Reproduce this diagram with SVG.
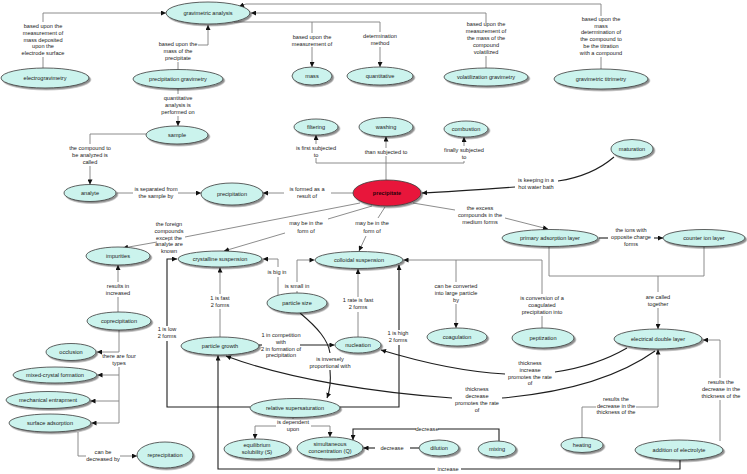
<svg xmlns="http://www.w3.org/2000/svg" width="747" height="474" viewBox="0 0 747 474">
<defs>
<marker id="a" viewBox="0 0 10 10" refX="10" refY="5" markerWidth="5.5" markerHeight="5" markerUnits="userSpaceOnUse" orient="auto"><path d="M0,0 L10,5 L0,10 z" fill="#111"/></marker>
<filter id="sh" x="-20%" y="-30%" width="150%" height="170%"><feDropShadow dx="1.6" dy="1.6" stdDeviation="0.6" flood-color="#000" flood-opacity="0.45"/></filter>
<style>
.n ellipse{fill:#cbf3ed;stroke:#3a3a3a;stroke-width:0.8;filter:url(#sh)}
.n text,.l{font-family:"Liberation Sans",Arial,sans-serif;font-size:5.6px;text-anchor:middle;fill:#1a1a1a}
.c path{fill:none;stroke:#808080;stroke-width:0.9}
.c path.d{stroke:#1e1e1e;stroke-width:1.1}
.c path.m{marker-end:url(#a)}
</style>
</defs>
<rect width="747" height="474" fill="#fff"/>
<g id="connectors" class="c">
<path d="M43,68 V57"/><path class="m" d="M43,22 V13 H166"/>
<path d="M178,70 V62"/><path class="m" d="M198,45 H208 V25"/>
<path d="M234,22 H380"/><path d="M312,22 V33"/><path class="m" d="M312,47 V67"/><path d="M380,22 V32"/><path class="m" d="M380,47 V67"/>
<path d="M486,68 V56"/><path class="m" d="M486,23 V13 H251"/>
<path d="M601,69 V57"/><path class="m" d="M601,16 V4 H246 L239,6.5"/>
<path d="M178,88 V94"/><path class="m" d="M178,116 V126"/>
<path d="M146,134 H90 V144"/><path class="m" d="M90,166 V184.5"/>
<path d="M117,193 H133"/><path class="m" d="M178,193 H201"/>
<path d="M353,193 H331"/><path class="m" d="M284,193 H263"/>
<path d="M386,180 V163"/><path d="M316,163 H464"/>
<path d="M316,163 V158"/><path class="m" d="M316,144 V135"/>
<path d="M386,163 V156"/><path class="m" d="M386,148 V136.5"/>
<path d="M464,163 V161"/><path class="m" d="M464,146 V137"/>
<path class="d" d="M614,157 Q592,176 558,181"/><path class="d m" d="M515,187 C475,190 445,192 422,193"/>
<path d="M413,203 L455,210"/><path class="m" d="M505,218 L548,229"/>
<path d="M360,203 L185,237"/><path class="m" d="M157,242 L123,248"/>
<path d="M372,206 L328,219"/><path class="m" d="M285,233 L224,251"/>
<path d="M385,207 L378,218"/><path class="m" d="M366,236 L359,251"/>
<path d="M278,295 V277"/><path class="m" d="M278,267 V259 H263"/>
<path d="M297,293 V291"/><path class="m" d="M297,282 V260 H314.5"/>
<path d="M220,337 V309"/><path class="m" d="M220,294 V267.5"/>
<path d="M358,337 V312"/><path class="m" d="M358,297 V269"/>
<path class="d" d="M250,407 H167 V341"/><path class="d m" d="M167,326 V259 H177"/>
<path class="d" d="M340,407 H399 V345"/><path class="d m" d="M399,330 V265"/>
<path class="d" d="M259,345 H262"/><path class="d m" d="M300,345 H334.5"/>
<path class="d" d="M300,313 C318,328 328,340 330,353"/><path class="d m" d="M330,370 C331,381 330,390 327,398"/>
<path class="d" d="M627,348 Q596,366 555,372"/><path class="d m" d="M505,374 Q450,371 381,350"/>
<path class="d" d="M655,351 C620,376 570,392 502,398"/><path class="d m" d="M452,398 C380,393 290,380 226,356"/>
<path d="M582,438 V407 H596"/><path class="m" d="M636,407 H658 V349.5"/>
<path d="M720,441 V400"/><path class="m" d="M720,378 V340 H703"/>
<path class="d" d="M680,460 V469 H461"/><path class="d m" d="M435,469 H218 V355.5"/>
<path class="d" d="M499,441 V429 H438"/><path class="d m" d="M416,429 H353 V440"/>
<path class="d" d="M419,448 H410"/><path class="d m" d="M375,448 H363.5"/>
<path d="M293,417.5 V419"/><path class="m" d="M276,426 H255 V439"/><path class="m" d="M311,426 H330 V437"/>
<path d="M118,312 V297"/><path class="m" d="M118,282 V265"/>
<path class="m" d="M119,330 V352 H97"/><path class="m" d="M119,367 V423 H91.5"/>
<path class="m" d="M119,375 H97.5"/><path class="m" d="M119,401 H90.5"/>
<path d="M78,432 V456 H86"/><path class="m" d="M120,456 H137"/>
<path d="M542,328 V316"/><path class="m" d="M542,294 V260 H403.5"/>
<path d="M456,260 V282"/><path class="m" d="M456,304 V328"/>
<path class="d" d="M599,238 H608"/><path class="d m" d="M654,238 H663"/>
<path d="M549,246.5 V276 H704 V246.5"/><path d="M658,276 V292"/><path class="m" d="M658,308 V329"/>
</g>
<g id="labels">
<text class="l" x="43" y="28">based upon the<tspan x="43" dy="6.8">measurement of</tspan><tspan x="43" dy="6.8">mass deposited</tspan><tspan x="43" dy="6.8">upon the</tspan><tspan x="43" dy="6.8">electrode surface</tspan></text>
<text class="l" x="178" y="46">based upon the<tspan x="178" dy="6.8">mass of the</tspan><tspan x="178" dy="6.8">precipitate</tspan></text>
<text class="l" x="312" y="39">based upon the<tspan x="312" dy="6.6">measurement of</tspan></text>
<text class="l" x="380" y="38">determination<tspan x="380" dy="6.8">method</tspan></text>
<text class="l" x="486" y="26">based upon the<tspan x="486" dy="6.9">measurement of</tspan><tspan x="486" dy="6.9">the mass of the</tspan><tspan x="486" dy="6.9">compound</tspan><tspan x="486" dy="6.9">volatilized</tspan></text>
<text class="l" x="601" y="21">based upon the<tspan x="601" dy="6.7">mass</tspan><tspan x="601" dy="6.7">determination of</tspan><tspan x="601" dy="6.7">the compound to</tspan><tspan x="601" dy="6.7">be the titration</tspan><tspan x="601" dy="6.7">with a compound</tspan></text>
<text class="l" x="178" y="100">quantitative<tspan x="178" dy="7">analysis is</tspan><tspan x="178" dy="7">performed on</tspan></text>
<text class="l" x="90" y="150">the compound to<tspan x="90" dy="7">be analyzed is</tspan><tspan x="90" dy="7">called</tspan></text>
<text class="l" x="156" y="191">is separated from<tspan x="156" dy="7">the sample by</tspan></text>
<text class="l" x="307" y="191">is formed as a<tspan x="307" dy="7">result of</tspan></text>
<text class="l" x="316" y="150">is first subjected<tspan x="316" dy="6.5">to</tspan></text>
<text class="l" x="386" y="154">than subjected to</text>
<text class="l" x="464" y="152">finally subjected<tspan x="464" dy="6.5">to</tspan></text>
<text class="l" x="536" y="182">is keeping in a<tspan x="536" dy="7">hot water bath</tspan></text>
<text class="l" x="480" y="210">the excess<tspan x="480" dy="7">compounds in the</tspan><tspan x="480" dy="7">medium forms</tspan></text>
<text class="l" x="169" y="226">the foreign<tspan x="169" dy="6.8">compounds</tspan><tspan x="169" dy="6.8">except the</tspan><tspan x="169" dy="6.8">analyte are</tspan><tspan x="169" dy="6.8">known</tspan></text>
<text class="l" x="306" y="225">may be in the<tspan x="306" dy="7.5">form of</tspan></text>
<text class="l" x="372" y="225">may be in the<tspan x="372" dy="7.5">form of</tspan></text>
<text class="l" x="277" y="274">is big in</text>
<text class="l" x="297" y="288">is small in</text>
<text class="l" x="220" y="300">1 is fast<tspan x="220" dy="7">2  forms</tspan></text>
<text class="l" x="358" y="302">1 rate is fast<tspan x="358" dy="7">2 forms</tspan></text>
<text class="l" x="167" y="331">1 is low<tspan x="167" dy="7">2  forms</tspan></text>
<text class="l" x="398" y="335">1 is high<tspan x="398" dy="7">2  forms</tspan></text>
<text class="l" x="281" y="337">1 in competition<tspan x="281" dy="6.8">with</tspan><tspan x="281" dy="6.8">2 in formation of</tspan><tspan x="281" dy="6.8">precipitation</tspan></text>
<text class="l" x="330" y="361">is inversely<tspan x="330" dy="7">proportional with</tspan></text>
<text class="l" x="530" y="365">thickness<tspan x="530" dy="6.8">increase</tspan><tspan x="530" dy="6.8">promotes the rate</tspan><tspan x="530" dy="6.8">of</tspan></text>
<text class="l" x="477" y="391">thickness<tspan x="477" dy="6.9">decrease</tspan><tspan x="477" dy="6.9">promotes the rate</tspan><tspan x="477" dy="6.9">of</tspan></text>
<text class="l" x="616" y="401">results the<tspan x="616" dy="6.7">decrease in the</tspan><tspan x="616" dy="6.7">thickness of the</tspan></text>
<text class="l" x="721" y="384">results the<tspan x="721" dy="7">decrease in the</tspan><tspan x="721" dy="7">thickness of the</tspan></text>
<text class="l" x="448" y="471">increase</text>
<text class="l" x="427" y="431">decrease</text>
<text class="l" x="392" y="450">decrease</text>
<text class="l" x="293" y="424">is dependent<tspan x="293" dy="6.5">upon</tspan></text>
<text class="l" x="118" y="288">results in<tspan x="118" dy="7">increased</tspan></text>
<text class="l" x="119" y="358">there are four<tspan x="119" dy="7">types</tspan></text>
<text class="l" x="103" y="454">can be<tspan x="103" dy="6.5">decreased by</tspan></text>
<text class="l" x="456" y="288">can be converted<tspan x="456" dy="6.8">into large particle</tspan><tspan x="456" dy="6.8">by</tspan></text>
<text class="l" x="542" y="300">is conversion of a<tspan x="542" dy="7">coagulated</tspan><tspan x="542" dy="7">precipitation into</tspan></text>
<text class="l" x="631" y="232">the ions with<tspan x="631" dy="7">opposite charge</tspan><tspan x="631" dy="7">forms</tspan></text>
<text class="l" x="658" y="299">are called<tspan x="658" dy="7">together</tspan></text>
</g>
<g id="gravimetric-analysis" class="n"><ellipse cx="208" cy="13" rx="42" ry="11"/><text x="208" y="15">gravimetric analysis</text></g>
<g id="electrogravimetry" class="n"><ellipse cx="45" cy="78" rx="44" ry="10"/><text x="45" y="80">electrogravimetry</text></g>
<g id="precipitation-gravimetry" class="n"><ellipse cx="178" cy="79" rx="45" ry="9.5"/><text x="178" y="81">precipitation gravimetry</text></g>
<g id="sample" class="n"><ellipse cx="177" cy="135" rx="31" ry="9"/><text x="177" y="137">sample</text></g>
<g id="mass" class="n"><ellipse cx="312" cy="76" rx="20" ry="9"/><text x="312" y="78">mass</text></g>
<g id="quantitative" class="n"><ellipse cx="380" cy="76" rx="33" ry="9"/><text x="380" y="78">quantitative</text></g>
<g id="volatilization-gravimetry" class="n"><ellipse cx="486" cy="77" rx="42" ry="9"/><text x="486" y="79">volatilization gravimetry</text></g>
<g id="gravimetric-titrimetry" class="n"><ellipse cx="601" cy="79" rx="47" ry="10"/><text x="601" y="81">gravimetric titrimetry</text></g>
<g id="filtering" class="n"><ellipse cx="316" cy="127" rx="22" ry="8"/><text x="316" y="129">filtering</text></g>
<g id="washing" class="n"><ellipse cx="386" cy="127" rx="27" ry="9.5"/><text x="386" y="129">washing</text></g>
<g id="combustion" class="n"><ellipse cx="466" cy="129" rx="22" ry="8"/><text x="466" y="131">combustion</text></g>
<g id="maturation" class="n"><ellipse cx="632" cy="149" rx="21" ry="9.5"/><text x="632" y="151">maturation</text></g>
<g id="precipitate" class="n"><ellipse cx="387" cy="193" rx="34" ry="13" style="fill:#e8183a"/><text x="387" y="195" style="font-weight:bold;fill:#2a0008">precipitate</text></g>
<g id="analyte" class="n"><ellipse cx="90" cy="193" rx="26" ry="8.5"/><text x="90" y="195">analyte</text></g>
<g id="precipitation" class="n"><ellipse cx="232" cy="194" rx="31" ry="11"/><text x="232" y="196">precipitation</text></g>
<g id="impurities" class="n"><ellipse cx="118" cy="256" rx="32" ry="9"/><text x="118" y="258">impurities</text></g>
<g id="crystalline-suspension" class="n"><ellipse cx="220" cy="259" rx="42" ry="8"/><text x="220" y="261">crystalline suspension</text></g>
<g id="colloidal-suspension" class="n"><ellipse cx="359" cy="260" rx="44" ry="8.5"/><text x="359" y="262">colloidal suspension</text></g>
<g id="particle-size" class="n"><ellipse cx="297" cy="303" rx="30" ry="10"/><text x="297" y="305">particle size</text></g>
<g id="particle-growth" class="n"><ellipse cx="220" cy="346" rx="39" ry="9"/><text x="220" y="348">particle growth</text></g>
<g id="nucleation" class="n"><ellipse cx="358" cy="345" rx="23" ry="8"/><text x="358" y="347">nucleation</text></g>
<g id="coagulation" class="n"><ellipse cx="457" cy="337" rx="30" ry="9"/><text x="457" y="339">coagulation</text></g>
<g id="peptization" class="n"><ellipse cx="543" cy="338" rx="31" ry="10"/><text x="543" y="340">peptization</text></g>
<g id="electrical-double-layer" class="n"><ellipse cx="658" cy="339" rx="44" ry="10"/><text x="658" y="341">electrical double layer</text></g>
<g id="primary-adsorption-layer" class="n"><ellipse cx="550" cy="238" rx="48" ry="8.5"/><text x="550" y="240">primary adsorption layer</text></g>
<g id="counter-ion-layer" class="n"><ellipse cx="704" cy="238" rx="41" ry="8.5"/><text x="704" y="240">counter ion layer</text></g>
<g id="coprecipitation" class="n"><ellipse cx="119" cy="321" rx="32" ry="9"/><text x="119" y="323">coprecipitation</text></g>
<g id="occlusion" class="n"><ellipse cx="71" cy="352" rx="25" ry="8.5"/><text x="71" y="354">occlusion</text></g>
<g id="mixed-crystal-formation" class="n"><ellipse cx="55" cy="375" rx="42" ry="8"/><text x="55" y="377">mixed-crystal formation</text></g>
<g id="mechanical-entrapment" class="n"><ellipse cx="48" cy="400" rx="42" ry="8.5"/><text x="48" y="402">mechanical entrapment</text></g>
<g id="surface-adsorption" class="n"><ellipse cx="50" cy="423" rx="41" ry="9"/><text x="50" y="425">surface adsorption</text></g>
<g id="reprecipitation" class="n"><ellipse cx="165" cy="455" rx="28" ry="13"/><text x="165" y="457">reprecipitation</text></g>
<g id="relative-supersaturation" class="n"><ellipse cx="295" cy="408" rx="45" ry="9.5"/><text x="295" y="410">relative supersaturation</text></g>
<g id="equilibrium-solubility" class="n"><ellipse cx="257" cy="449" rx="33" ry="10"/><text x="257" y="447">equilibrium<tspan x="257" dy="7">solubility (S)</tspan></text></g>
<g id="simultaneous-concentration" class="n"><ellipse cx="330" cy="448" rx="33" ry="11"/><text x="330" y="446">simultaneous<tspan x="330" dy="7">concentration (Q)</tspan></text></g>
<g id="dilution" class="n"><ellipse cx="439" cy="448" rx="20" ry="8"/><text x="439" y="450">dilution</text></g>
<g id="mixing" class="n"><ellipse cx="497" cy="449" rx="19" ry="8"/><text x="497" y="451">mixing</text></g>
<g id="heating" class="n"><ellipse cx="582" cy="445" rx="21" ry="7.5"/><text x="582" y="447">heating</text></g>
<g id="addition-of-electrolyte" class="n"><ellipse cx="679" cy="450" rx="44" ry="10"/><text x="679" y="452">addition of electrolyte</text></g>
</svg>
